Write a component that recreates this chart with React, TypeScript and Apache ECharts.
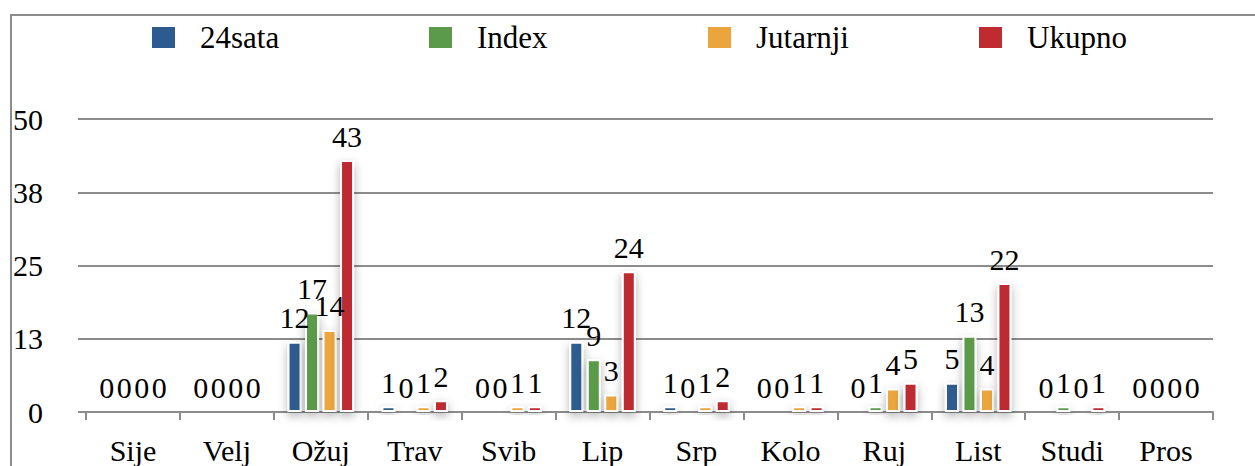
import React, { useEffect, useRef } from "react";
import * as echarts from "echarts";

const categories = ["Sije", "Velj", "Ožuj", "Trav", "Svib", "Lip", "Srp", "Kolo", "Ruj", "List", "Studi", "Pros"];
const seriesNames = ["24sata", "Index", "Jutarnji", "Ukupno"];
const data24sata = [0, 0, 12, 1, 0, 12, 1, 0, 0, 5, 0, 0];
const dataIndex = [0, 0, 17, 0, 0, 9, 0, 0, 1, 13, 1, 0];
const dataJutarnji = [0, 0, 14, 1, 1, 3, 1, 1, 4, 4, 0, 0];
const dataUkupno = [0, 0, 43, 2, 1, 24, 2, 1, 5, 22, 1, 0];
const colors = ["#2e5b8f", "#5a9a4a", "#eaa53c", "#be2b30"];
const legendLefts = [150, 427, 706, 977];

const FONT = "Liberation Serif";
const GRAY = "#8c8c8c";

export default function App() {
  const ref = useRef<HTMLDivElement>(null);
  useEffect(() => {
    document.body.style.margin = "0";
    const chart = echarts.init(ref.current!, null, { renderer: "svg" });
    const allData = [data24sata, dataIndex, dataJutarnji, dataUkupno];
    chart.setOption({
      animation: false,
      backgroundColor: "#fff",
      textStyle: { fontFamily: FONT },
      graphic: [
        {
          type: "rect",
          z: -10,
          shape: { x: 11, y: 15, width: 1400, height: 700 },
          style: { fill: "none", stroke: GRAY, lineWidth: 2 },
        },
      ],
      legend: seriesNames.map((n, i) => ({
        data: [n],
        left: legendLefts[i],
        top: 22,
        padding: 0,
        icon: "rect",
        itemWidth: 25,
        itemHeight: 23,
        textStyle: { fontFamily: FONT, fontSize: 31, color: "#000", padding: [0, 0, 0, 19] },
      })),
      grid: { left: 86, right: 42, top: 119, bottom: 54, containLabel: false, outerBoundsMode: "none" },
      xAxis: {
        type: "category",
        data: categories,
        axisLine: { lineStyle: { color: GRAY, width: 2 } },
        axisTick: { show: true, length: 8, lineStyle: { color: GRAY, width: 2 } },
        axisLabel: { fontFamily: FONT, fontSize: 30, color: "#000", margin: 23 },
      },
      yAxis: {
        type: "value",
        min: 0,
        max: 50,
        interval: 12.5,
        axisLine: { show: false },
        axisTick: { show: true, length: 8, lineStyle: { color: GRAY, width: 2 } },
        splitLine: { lineStyle: { color: GRAY, width: 2 } },
        axisLabel: {
          fontFamily: FONT,
          fontSize: 30,
          color: "#000",
          margin: 43,
          formatter: (v: number) => String(Math.round(v)),
        },
      },
      series: seriesNames.map((n, i) => ({
        name: n,
        type: "bar",
        data: allData[i],
        barWidth: 14,
        barGap: "25%",
        itemStyle: {
          color: colors[i],
          borderColor: "#fff",
          borderWidth: 2,
          shadowColor: "rgba(0,0,0,0.3)",
          shadowBlur: 10,
          shadowOffsetY: 4,
        },
        label: {
          show: true,
          position: "top",
          distance: 9,
          fontFamily: FONT,
          fontSize: 30,
          color: "#000",
        },
      })),
    });
    return () => chart.dispose();
  }, []);
  return <div ref={ref} style={{ width: 1255, height: 466 }} />;
}
